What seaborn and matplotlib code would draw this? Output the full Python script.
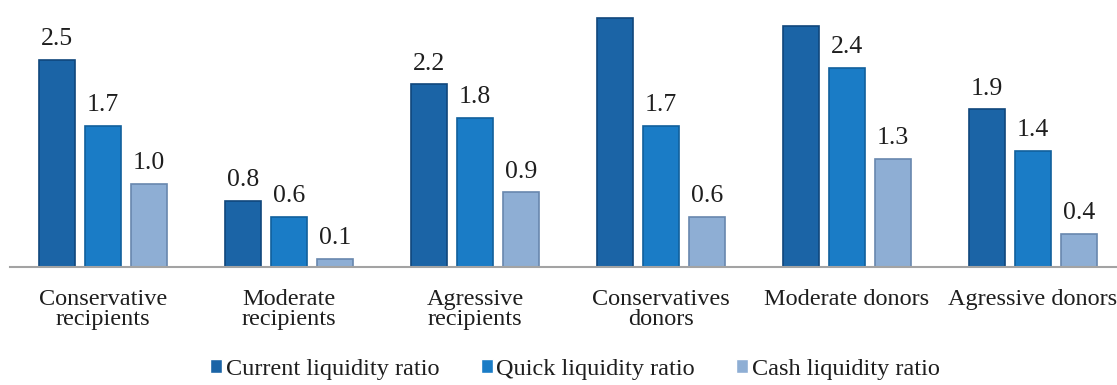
import pandas as pd
import seaborn as sns
import matplotlib.pyplot as plt

groups = ["Conservative\nrecipients", "Moderate\nrecipients", "Agressive\nrecipients",
          "Conservatives\ndonors", "Moderate donors", "Agressive donors"]
ratios = ["Current liquidity ratio", "Quick liquidity ratio", "Cash liquidity ratio"]
current = [2.5, 0.8, 2.2, 3.0, 2.9, 1.9]
quick = [1.7, 0.6, 1.8, 1.7, 2.4, 1.4]
cash = [1.0, 0.1, 0.9, 0.6, 1.3, 0.4]
colors = ["#1b64a6", "#1a7cc6", "#8eaed4"]
edges = ["#10477c", "#11609c", "#6887ae"]

df = pd.DataFrame({
    "group": groups * 3,
    "ratio": [r for r in ratios for _ in groups],
    "value": current + quick + cash,
})

sns.set_style("white")
plt.rcParams["font.family"] = ["Liberation Serif", "DejaVu Serif"]

fig = plt.figure(figsize=(11.17, 3.85), dpi=100)
ax = fig.add_axes([10 / 1117, 118 / 385, 1116 / 1117, 267 / 385])

sns.barplot(data=df, x="group", y="value", hue="ratio", order=groups, hue_order=ratios,
            palette=colors, saturation=1, width=0.74, gap=0.2, ax=ax, legend=True)

for cont, ec, vals in zip(ax.containers, edges, [current, quick, cash]):
    for bar in cont:
        bar.set_edgecolor(ec)
        bar.set_linewidth(1.2)
    # values above the plot area are hidden in the original
    labels = [f"{v:.1f}" if v < 2.8 else "" for v in vals]
    ax.bar_label(cont, labels=labels, padding=7, fontsize=18.5, color="#1e1e1e")

ax.set_ylim(0, 267 / 83)
ax.set_xlabel("")
ax.set_ylabel("")
ax.set_yticks([])
ax.tick_params(axis="x", length=0, pad=16, labelsize=17.5, colors="#1e1e1e")
for lab in ax.get_xticklabels():
    lab.set_linespacing(0.95)
    lab.set_verticalalignment("top")
for s in ["top", "left", "right"]:
    ax.spines[s].set_visible(False)
ax.spines["bottom"].set_color("#a3a3a3")
ax.spines["bottom"].set_linewidth(1.5)

handles, labels = ax.get_legend_handles_labels()
ax.legend(handles, labels, loc="center", bbox_to_anchor=(575 / 1117, 1 - 369 / 385),
          bbox_transform=fig.transFigure, ncol=3, frameon=False, fontsize=17.5,
          handlelength=0.5, handleheight=0.5, handletextpad=0.15, columnspacing=1.7,
          borderpad=0, labelcolor="#1e1e1e")

plt.savefig("out.png", dpi=100)
